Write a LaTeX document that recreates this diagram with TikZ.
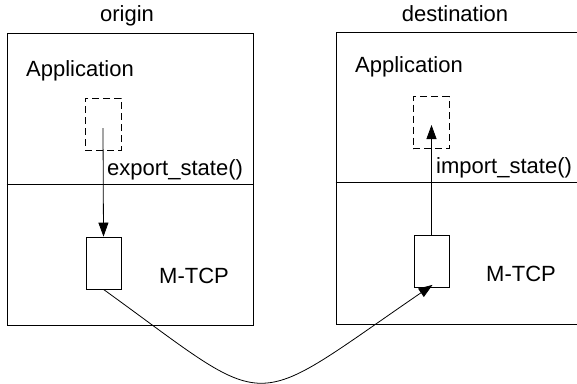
\documentclass[tikz,border=0pt]{standalone}
\usepackage{fontspec}
\setmainfont{Liberation Sans}
\usetikzlibrary{arrows.meta}
\begin{document}
\begin{tikzpicture}[x=1pt,y=-1pt,
  every node/.style={font=\fontsize{22}{26}\selectfont, inner sep=0pt},
  hostbox/.style={draw, line width=0.8pt, rectangle},
  statebox/.style={draw, line width=0.8pt, dash pattern=on 7pt off 4pt, rectangle, minimum width=36pt, minimum height=52pt},
  tcpbox/.style={draw, line width=0.8pt, rectangle, minimum width=35pt, minimum height=52pt},
  layer/.style={line width=0.8pt},
  flow/.style={line width=0.8pt, -{Triangle[length=14pt,width=10pt]}},
  lbl/.style={anchor=base west}]
  \clip (0,0) rectangle (577,383);
  \useasboundingbox (0,0) rectangle (577,383);

  % hosts
  \node[hostbox, minimum width=246pt, minimum height=292pt] (orig) at (130,179) {};
  \node[hostbox, minimum width=264pt, minimum height=292pt] (dest) at (468,178) {};
  \draw[layer] (orig.west |- 0,184) -- (orig.east |- 0,184);
  \draw[layer] (dest.west |- 0,182) -- (577,182);

  % titles and layer names
  \node[anchor=base] (otitle) at (127,21) {origin};
  \node[anchor=base] (dtitle) at (455,21) {destination};
  \node[lbl] (oapp) at (26,76) {Application};
  \node[lbl] (dapp) at (355,72) {Application};
  \node[lbl] (otcp) at (159,283) {M-TCP};
  \node[lbl] (dtcp) at (486,281) {M-TCP};

  % application state and M-TCP state
  \node[statebox] (ostate) at (103,124) {};
  \node[statebox] (dstate) at (431,122.5) {};
  \node[tcpbox] (otcpbox) at (103.5,263) {};
  \node[tcpbox] (dtcpbox) at (431.5,261.5) {};

  \coordinate (oin) at (103,128);
  \coordinate (din) at (431.5,125);

  \draw[flow] (oin) -- (otcpbox.north);
  \draw[flow] (dtcpbox.north) -- (din);
  \node[lbl] (exp) at (107,175) {export\_state()};
  \node[lbl] (imp) at (436,173) {import\_state()};

  % migration of the connection state
  \draw[flow] (otcpbox.south) .. controls (276,414) and (244,414) .. ([xshift=1pt,yshift=3pt]dtcpbox.south);
\end{tikzpicture}
\end{document}
